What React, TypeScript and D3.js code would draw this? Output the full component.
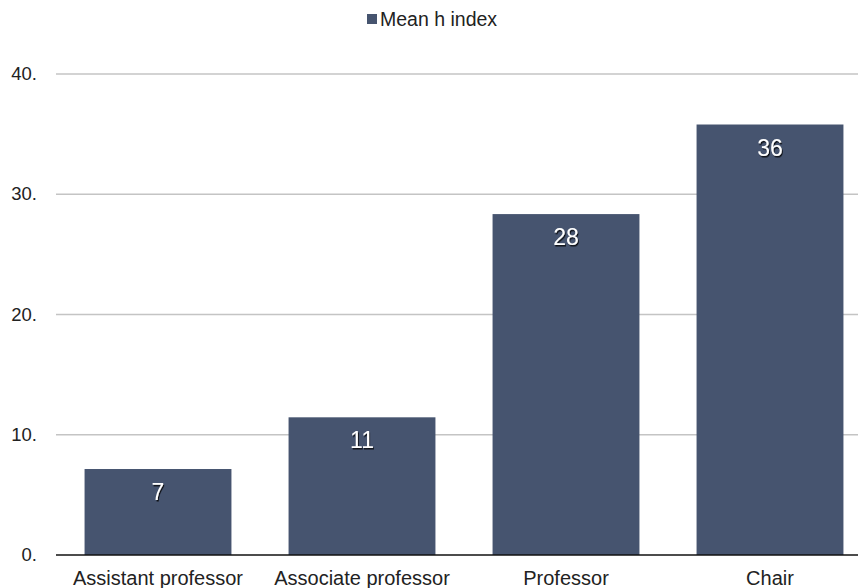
import React from "react";
import * as d3 from "d3";

const categories = ["Assistant professor", "Associate professor", "Professor", "Chair"];
const values = [7.15, 11.45, 28.35, 35.8];
const labels = ["7", "11", "28", "36"];
const yTicks = [0, 10, 20, 30, 40];
const seriesName = "Mean h index";

const W = 858;
const H = 588;
const color = "#46546f";

export default function App() {
  const x = d3.scaleBand<string>().domain(categories).range([56, 872]).paddingInner(0.28).paddingOuter(0.14);
  const y = d3.scaleLinear().domain([0, 40]).range([555, 74]);
  const font = "'Liberation Sans', Arial, sans-serif";
  return (
    <svg width={W} height={H} style={{ position: "absolute", left: 0, top: 0, background: "#fff" }} fontFamily={font}>
      <defs>
        <filter id="sh" x="-20%" y="-20%" width="140%" height="140%">
          <feDropShadow dx="1" dy="1.5" stdDeviation="0.6" floodColor="#000" floodOpacity="0.8" />
        </filter>
      </defs>
      {/* legend */}
      <rect x={367} y={14} width={10} height={10} fill={color} />
      <text x={380} y={26} fontSize={19.5} fill="#222">{seriesName}</text>
      {/* grid */}
      {yTicks.map((t) => (
        <g key={t}>
          {t !== 0 && <line x1={56} x2={W} y1={y(t)} y2={y(t)} stroke="#c4c4c4" strokeWidth={1.3} />}
          <text x={37} y={y(t) + 6} fontSize={18.5} textAnchor="end" fill="#222">{t + "."}</text>
        </g>
      ))}
      {categories.map((c, i) => (
        <g key={c}>
          <rect x={x(c)} y={y(values[i])} width={x.bandwidth()} height={y(0) - y(values[i])} fill={color} />
          <text x={(x(c) as number) + x.bandwidth() / 2} y={y(values[i]) + 31} fontSize={23} textAnchor="middle" fill="#fff" filter="url(#sh)">{labels[i]}</text>
          <text x={(x(c) as number) + x.bandwidth() / 2} y={585} fontSize={20} textAnchor="middle" fill="#222">{c}</text>
        </g>
      ))}
      <line x1={56} x2={W} y1={y(0)} y2={y(0)} stroke="#111" strokeWidth={1.5} />
    </svg>
  );
}
